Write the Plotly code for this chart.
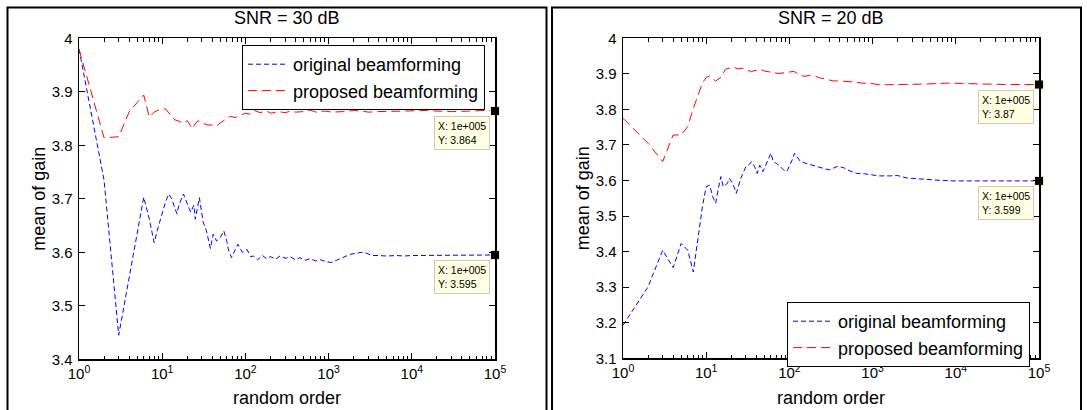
import plotly.graph_objects as go

W, H = 1087, 410

# ---------------- data ----------------
# SNR = 30 dB
n30_orig = [1, 2, 3, 4, 5, 6, 7, 8, 9, 10, 11, 12, 13, 15, 16, 18, 20, 22, 24, 25, 28, 31, 34, 38, 41, 45, 50,
            55, 60, 62, 68, 75, 81, 92, 105, 115, 126, 140, 160, 180, 200, 230, 260, 300, 350, 400, 450, 520,
            600, 700, 800, 950, 1100, 1250, 1500, 1800, 2100, 2500, 2900, 3300, 4000, 5000, 6500, 8000, 10000,
            14000, 20000, 30000, 45000, 70000, 100000]
g30_orig = [3.98, 3.735, 3.445, 3.552, 3.633, 3.703, 3.662, 3.618, 3.648, 3.672, 3.695, 3.709, 3.700, 3.672,
            3.690, 3.709, 3.690, 3.675, 3.688, 3.662, 3.702, 3.657, 3.640, 3.607, 3.634, 3.621, 3.628, 3.640,
            3.620, 3.607, 3.590, 3.603, 3.615, 3.600, 3.605, 3.592, 3.593, 3.586, 3.594, 3.588, 3.592, 3.587,
            3.593, 3.589, 3.591, 3.586, 3.590, 3.585, 3.588, 3.584, 3.586, 3.582, 3.581, 3.585, 3.591, 3.596,
            3.598, 3.600, 3.598, 3.594, 3.594, 3.593, 3.594, 3.593, 3.594, 3.594, 3.594, 3.595, 3.595, 3.595,
            3.595]

n30_prop = [1, 2, 3, 4, 5, 6, 7, 8, 9, 10, 11, 12, 14, 16, 18, 20, 23, 25, 27, 30, 35, 40, 45, 50, 55, 60, 66,
            75, 87, 100, 115, 130, 150, 180, 200, 250, 300, 350, 400, 500, 600, 700, 900, 1100, 1500, 2000,
            2500, 3000, 4000, 6000, 10000, 15000, 20000, 30000, 50000, 70000, 100000]
g30_prop = [3.98, 3.814, 3.816, 3.862, 3.880, 3.894, 3.853, 3.862, 3.866, 3.868, 3.868, 3.860, 3.848, 3.845,
            3.841, 3.846, 3.831, 3.840, 3.846, 3.842, 3.838, 3.838, 3.836, 3.842, 3.847, 3.850, 3.854, 3.852,
            3.856, 3.860, 3.858, 3.865, 3.861, 3.864, 3.860, 3.863, 3.861, 3.864, 3.862, 3.863, 3.866, 3.862,
            3.864, 3.862, 3.863, 3.865, 3.864, 3.862, 3.863, 3.864, 3.864, 3.865, 3.864, 3.863, 3.864, 3.865,
            3.864]

# SNR = 20 dB
n20_orig = [1, 2, 3, 4, 5, 6, 7, 8, 9, 10, 11, 12, 13, 14, 15, 16, 18, 19, 21, 23, 26, 30, 33, 35, 38, 41, 44,
            48, 52, 56, 60, 64, 70, 78, 85, 93, 100, 108, 115, 125, 135, 150, 178, 210, 257, 300, 380, 450,
            520, 650, 800, 950, 1200, 1600, 2000, 2600, 3500, 5000, 7000, 9300, 15000, 25000, 50000, 100000]
g20_orig = [3.193, 3.301, 3.404, 3.355, 3.423, 3.404, 3.343, 3.442, 3.526, 3.583, 3.587, 3.554, 3.536, 3.578,
            3.611, 3.583, 3.592, 3.606, 3.590, 3.564, 3.606, 3.639, 3.645, 3.653, 3.640, 3.620, 3.643, 3.625,
            3.643, 3.660, 3.677, 3.653, 3.648, 3.639, 3.630, 3.625, 3.640, 3.658, 3.677, 3.665, 3.654, 3.650,
            3.644, 3.640, 3.634, 3.630, 3.640, 3.636, 3.628, 3.620, 3.619, 3.617, 3.613, 3.613, 3.614, 3.607,
            3.605, 3.601, 3.600, 3.599, 3.599, 3.599, 3.599, 3.599]

n20_prop = [1, 2, 3, 4, 5, 6, 7, 8, 9, 10, 11, 12, 13, 15, 17, 19, 21, 24, 27, 31, 35, 40, 45, 50, 55, 60, 66,
            75, 87, 100, 113, 130, 150, 175, 195, 230, 260, 300, 340, 400, 490, 600, 750, 950, 1250, 1600,
            2000, 2500, 3800, 5000, 8000, 12000, 20000, 40000, 70000, 100000]
g20_prop = [3.775, 3.705, 3.653, 3.728, 3.728, 3.752, 3.803, 3.841, 3.874, 3.890, 3.894, 3.886, 3.880, 3.890,
            3.913, 3.916, 3.919, 3.914, 3.916, 3.910, 3.907, 3.910, 3.913, 3.908, 3.907, 3.905, 3.903, 3.901,
            3.903, 3.905, 3.907, 3.899, 3.893, 3.896, 3.895, 3.889, 3.886, 3.882, 3.880, 3.880, 3.879, 3.877,
            3.874, 3.873, 3.869, 3.869, 3.869, 3.870, 3.871, 3.872, 3.874, 3.873, 3.871, 3.870, 3.870, 3.870]

panel_titles = ["SNR = 30 dB", "SNR = 20 dB"]
series_names = ["original beamforming", "proposed beamforming"]
x_title = "random order"
y_title = "mean of gain"
y_ranges = [[3.4, 4.0], [3.1, 4.0]]
x_tickvals = [1, 10, 100, 1000, 10000, 100000]
x_ticktext = ["10<sup>0</sup>", "10<sup>1</sup>", "10<sup>2</sup>", "10<sup>3</sup>", "10<sup>4</sup>", "10<sup>5</sup>"]
x_minor = [m * d for d in [1, 10, 100, 1000, 10000] for m in range(2, 10)]

# ---------------- layout helpers ----------------
def px(x):
    return x / W

def py(y):
    return 1 - y / H

FONT = "Liberation Sans, Arial, Helvetica, sans-serif"
BLUE = "rgb(0,0,255)"
RED = "rgb(255,0,0)"

panels = [
    dict(xd=[79, 495], yd=[38.3, 359.3], xa="x", ya="y", leg="legend",
         data=[(n30_orig, g30_orig), (n30_prop, g30_prop)]),
    dict(xd=[623, 1039], yd=[38.3, 358.3], xa="x2", ya="y2", leg="legend2",
         data=[(n20_orig, g20_orig), (n20_prop, g20_prop)]),
]

fig = go.Figure()
styles = [dict(color=BLUE, width=1, dash="5px,3px"), dict(color=RED, width=1, dash="9px,5px")]

for pi, p in enumerate(panels):
    for si, (xs, ys) in enumerate(p["data"]):
        fig.add_trace(go.Scatter(x=xs, y=ys, mode="lines", name=series_names[si],
                                 line=styles[si], xaxis=p["xa"], yaxis=p["ya"],
                                 legend=p["leg"], showlegend=True, hoverinfo="skip"))
    for si, (xs, ys) in enumerate(p["data"]):
        fig.add_trace(go.Scatter(x=[xs[-1]], y=[ys[-1]], mode="markers",
                                 marker=dict(symbol="square", size=9, color="black",
                                             line=dict(color="#f5f0c8", width=1)),
                                 xaxis=p["xa"], yaxis=p["ya"], showlegend=False, cliponaxis=False,
                                 hoverinfo="skip"))

axis_common = dict(showgrid=False, zeroline=False, showline=True, linecolor="black", linewidth=1.5,
                   mirror="ticks", ticks="inside", tickcolor="black", tickwidth=1, automargin=False,
                   tickfont=dict(family=FONT, size=15, color="black"))

annotations = []
shapes = []
for pi, p in enumerate(panels):
    sfx = "" if pi == 0 else "2"
    fig.layout["xaxis" + sfx] = dict(
        axis_common, type="log", range=[0, 5], domain=[px(p["xd"][0]), px(p["xd"][1])],
        anchor="y" + sfx, tickvals=x_tickvals, ticktext=x_ticktext, ticklen=6,
        minor=dict(ticks="inside", ticklen=3.5, tickmode="array", tickvals=x_minor,
                   tickcolor="black", tickwidth=1),
    )
    fig.layout["yaxis" + sfx] = dict(
        axis_common, range=y_ranges[pi], dtick=0.1, tick0=3.0,
        domain=[py(p["yd"][1]), py(p["yd"][0])], anchor="x" + sfx, ticklen=6,
        ticklabelstandoff=2,
    )
    cx = (p["xd"][0] + p["xd"][1]) / 2
    cy = (p["yd"][0] + p["yd"][1]) / 2
    annotations.append(dict(text=panel_titles[pi], x=px(cx), y=py(18), xref="paper", yref="paper",
                            showarrow=False, xanchor="center", yanchor="middle",
                            font=dict(family=FONT, size=18, color="black")))
    annotations.append(dict(text=x_title, x=px(cx), y=py(398), xref="paper", yref="paper",
                            showarrow=False, xanchor="center", yanchor="middle",
                            font=dict(family=FONT, size=18, color="black")))
    annotations.append(dict(text=y_title, x=px(p["xd"][0] - 40), y=py(cy), xref="paper", yref="paper",
                            showarrow=False, xanchor="center", yanchor="middle", textangle=-90,
                            font=dict(family=FONT, size=18, color="black")))
    # data tips
    for si, (xs, ys) in enumerate(p["data"]):
        annotations.append(dict(
            text="X: 1e+005<br>Y: " + ("%g" % ys[-1]), x=5, y=ys[-1], xref=p["xa"], yref=p["ya"],
            showarrow=False, xanchor="right", yanchor="top", xshift=-5, yshift=-5, align="left",
            bgcolor="#ffffe1", bordercolor="#c8c8c8", borderwidth=1, borderpad=3,
            font=dict(family=FONT, size=10.5, color="black")))

# outer frames
shapes.append(dict(type="rect", xref="paper", yref="paper", x0=px(7.5), x1=px(546.5), y0=py(440), y1=py(7.5),
                   line=dict(color="black", width=2), fillcolor="rgba(0,0,0,0)", layer="below"))
shapes.append(dict(type="rect", xref="paper", yref="paper", x0=px(552), x1=px(1081), y0=py(440), y1=py(7.5),
                   line=dict(color="black", width=2), fillcolor="rgba(0,0,0,0)", layer="below"))

legend_common = dict(bgcolor="white", bordercolor="black", borderwidth=1, xanchor="left", yanchor="top",
                     font=dict(family=FONT, size=18, color="black"), tracegroupgap=0, itemwidth=40)

fig.update_layout(
    width=W, height=H, margin=dict(l=0, r=0, t=0, b=0, autoexpand=False),
    paper_bgcolor="white", plot_bgcolor="white",
    font=dict(family=FONT, color="black"),
    hovermode=False,
    legend=dict(legend_common, x=px(242), y=py(45)),
    legend2=dict(legend_common, x=px(787), y=py(302)),
    annotations=annotations, shapes=shapes,
)

fig.write_html("out.html", config={"displayModeBar": False, "staticPlot": True},
               post_script="document.body.style.margin='0';document.body.style.padding='0';"
                           "document.body.style.overflow='hidden';")
